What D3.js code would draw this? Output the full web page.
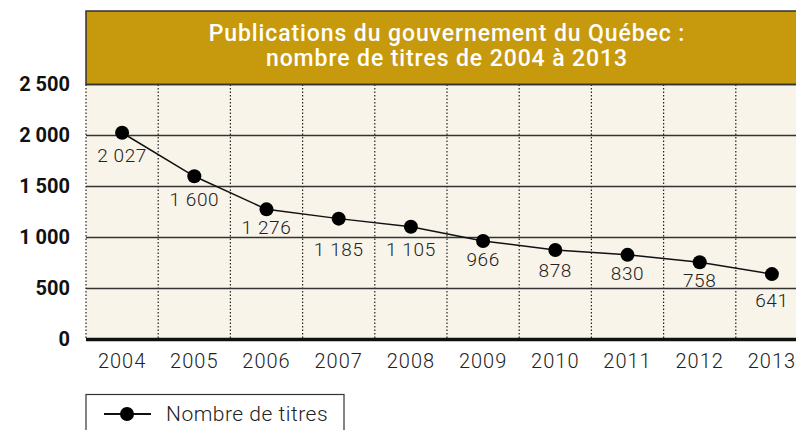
<!DOCTYPE html>
<html>
<head>
<meta charset="utf-8">
<script src="https://cdn.jsdelivr.net/npm/d3@7"></script>
<style>
  body { margin: 0; background: #fff; }
  svg { display: block; font-family: Roboto, "Noto Sans", sans-serif; }
</style>
</head>
<body>
<svg class="chart" width="796" height="430"></svg>
<script>
const years = ["2004", "2005", "2006", "2007", "2008", "2009", "2010", "2011", "2012", "2013"];
const titres = [2027, 1600, 1276, 1185, 1105, 966, 878, 830, 758, 641];
const yTicks = [0, 500, 1000, 1500, 2000, 2500];
const titleLines = ["Publications du gouvernement du Québec :", "nombre de titres de 2004 à 2013"];
const seriesName = "Nombre de titres";

// vertical offset of each value label below its point (layout only)
const labelDy = [29, 29.5, 25, 37, 29, 25, 27.5, 25, 24.5, 32.5];

const svg = d3.select("svg.chart");
const plotLeft = 86, plotRight = 808, plotTop = 84.5, plotBottom = 339.5;

const fmt = v => d3.format(",")(v).replace(/,/g, " ");

const x = d3.scaleBand()
    .domain(years)
    .range([plotLeft, plotRight]);

const y = d3.scaleLinear()
    .domain([0, 2500])
    .range([plotBottom, plotTop]);

const data = years.map((yr, i) => ({year: yr, value: titres[i], dy: labelDy[i]}));

// plot background
svg.append("rect")
    .attr("x", plotLeft).attr("y", plotTop)
    .attr("width", plotRight - plotLeft).attr("height", plotBottom - plotTop)
    .attr("fill", "#f8f4ea");

// header band
svg.append("rect")
    .attr("x", plotLeft).attr("y", 11)
    .attr("width", plotRight - plotLeft).attr("height", plotTop - 11)
    .attr("fill", "#c7990c")
    .attr("stroke", "#333")
    .attr("stroke-width", 1.5);

svg.append("text")
    .attr("text-anchor", "middle")
    .attr("fill", "#fff")
    .attr("font-size", 23)
    .attr("font-weight", 500)
    .attr("letter-spacing", 0.9)
    .selectAll("tspan")
    .data(titleLines)
    .enter().append("tspan")
    .attr("x", (plotLeft + plotRight) / 2)
    .attr("y", (d, i) => 41 + i * 25)
    .text(d => d);

// vertical dotted grid
svg.append("g")
    .selectAll("line")
    .data(years)
    .enter().append("line")
    .attr("x1", d => x(d)).attr("x2", d => x(d))
    .attr("y1", plotTop).attr("y2", plotBottom)
    .attr("stroke", "#222")
    .attr("stroke-width", 1.2)
    .attr("stroke-dasharray", "1.5,2");

// horizontal grid
svg.append("g")
    .selectAll("line")
    .data(yTicks.filter(d => d > 0))
    .enter().append("line")
    .attr("x1", plotLeft).attr("x2", plotRight)
    .attr("y1", d => y(d)).attr("y2", d => y(d))
    .attr("stroke", "#333")
    .attr("stroke-width", 1.5);

// zero axis line
svg.append("line")
    .attr("x1", plotLeft).attr("x2", plotRight)
    .attr("y1", y(0)).attr("y2", y(0))
    .attr("stroke", "#111")
    .attr("stroke-width", 3.5);

// y axis labels
const yAxis = d3.axisLeft(y).tickValues(yTicks).tickSize(0).tickPadding(16).tickFormat(fmt);
svg.append("g")
    .attr("transform", `translate(${plotLeft}, 0)`)
    .call(yAxis)
    .call(g => g.select(".domain").remove())
    .selectAll("text")
    .attr("font-family", "Roboto, sans-serif")
    .attr("font-size", 20)
    .attr("font-weight", 700)
    .attr("fill", "#111");

// x axis labels
const xAxis = d3.axisBottom(x).tickSize(0).tickPadding(14);
svg.append("g")
    .attr("transform", `translate(0, ${plotBottom})`)
    .call(xAxis)
    .call(g => g.select(".domain").remove())
    .selectAll("text")
    .attr("font-family", "Roboto, sans-serif")
    .attr("font-size", 20)
    .attr("font-weight", 300)
    .attr("letter-spacing", 1)
    .attr("fill", "#222");

// line + points
const cx = d => x(d.year) + x.bandwidth() / 2;
const line = d3.line().x(cx).y(d => y(d.value));

svg.append("path")
    .datum(data)
    .attr("d", line)
    .attr("fill", "none")
    .attr("stroke", "#111")
    .attr("stroke-width", 1.5);

svg.selectAll(".pt")
    .data(data)
    .enter().append("circle")
    .attr("class", "pt")
    .attr("cx", cx)
    .attr("cy", d => y(d.value))
    .attr("r", 7)
    .attr("fill", "#000");

svg.selectAll(".lbl")
    .data(data)
    .enter().append("text")
    .attr("class", "lbl")
    .attr("x", cx)
    .attr("y", d => y(d.value) + d.dy)
    .attr("text-anchor", "middle")
    .attr("font-size", 19)
    .attr("font-weight", 300)
    .attr("letter-spacing", 0.6)
    .attr("fill", "#222")
    .text(d => fmt(d.value));

// legend
const lg = svg.append("g");
lg.append("rect")
    .attr("x", plotLeft).attr("y", 394.5)
    .attr("width", 258).attr("height", 40)
    .attr("fill", "#fff")
    .attr("stroke", "#333")
    .attr("stroke-width", 1.2);
lg.append("line")
    .attr("x1", 104).attr("x2", 151)
    .attr("y1", 414).attr("y2", 414)
    .attr("stroke", "#111").attr("stroke-width", 2);
lg.append("circle")
    .attr("cx", 127).attr("cy", 414).attr("r", 7).attr("fill", "#000");
lg.append("text")
    .attr("x", 166).attr("y", 421)
    .attr("font-size", 21)
    .attr("font-weight", 300)
    .attr("letter-spacing", 0.5)
    .attr("fill", "#222")
    .text(seriesName);
</script>
</body>
</html>
